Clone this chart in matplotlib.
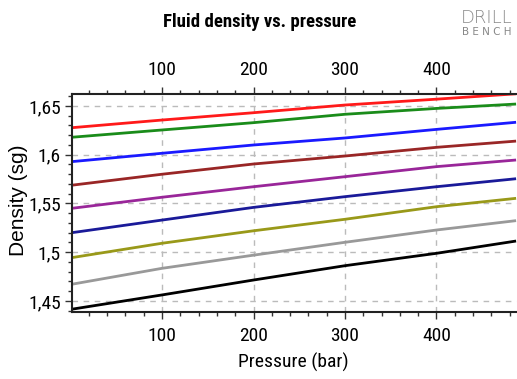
import matplotlib.pyplot as plt
from matplotlib.ticker import MultipleLocator, FuncFormatter
from matplotlib import font_manager

# pressure samples (bar) and densities (sg)
pressure = [1, 100, 200, 300, 400, 487]

red_line = [1.6277, 1.6356, 1.6431, 1.6510, 1.6570, 1.6625]
green_line = [1.6179, 1.6254, 1.6329, 1.6415, 1.6475, 1.6520]
blue_line = [1.5929, 1.6015, 1.6100, 1.6172, 1.6260, 1.6333]
brown_line = [1.5687, 1.5800, 1.5905, 1.5987, 1.6076, 1.6140]
purple_line = [1.5450, 1.5564, 1.5672, 1.5775, 1.5878, 1.5946]
navy_line = [1.5200, 1.5330, 1.5460, 1.5570, 1.5672, 1.5754]
olive_line = [1.4944, 1.5092, 1.5220, 1.5338, 1.5467, 1.5553]
gray_line = [1.4671, 1.4835, 1.4970, 1.5102, 1.5228, 1.5324]
black_line = [1.4415, 1.4562, 1.4715, 1.4862, 1.4989, 1.5115]

series = [
    (red_line, '#ff1a1a'),
    (green_line, '#1a8c1a'),
    (blue_line, '#1a1aff'),
    (brown_line, '#992626'),
    (purple_line, '#992699'),
    (navy_line, '#1a1a99'),
    (olive_line, '#999919'),
    (gray_line, '#999999'),
    (black_line, '#000000'),
]

# narrow sans to get close to the squeezed look of the original
installed = {f.name for f in font_manager.fontManager.ttflist}
narrow = 'Liberation Sans'
for name in ['Liberation Sans Narrow', 'Roboto Condensed', 'Archivo Narrow', 'PT Sans Narrow']:
    if name in installed:
        narrow = name
        break
plt.rcParams['font.family'] = [narrow, 'DejaVu Sans']

fig = plt.figure(figsize=(5.17, 3.79), dpi=100)
ax = fig.add_axes([72 / 517, 1 - 312 / 379, (517 - 72) / 517, (312 - 94) / 379])

for values, color in series:
    ax.plot(pressure, values, color=color, lw=2, solid_capstyle='butt')

ax.set_xlim(1.6, 488)
ax.set_ylim(1.4387, 1.6623)

ax.xaxis.set_major_locator(MultipleLocator(100))
ax.xaxis.set_minor_locator(MultipleLocator(20))
ax.yaxis.set_major_locator(MultipleLocator(0.05))
ax.yaxis.set_minor_locator(MultipleLocator(0.01))
ax.yaxis.set_major_formatter(FuncFormatter(lambda v, _: f'{v:.2f}'.rstrip('0').replace('.', ',')))

ax.tick_params(which='both', direction='out', top=True, labeltop=True,
               right=False, labelsize=14, color='#333333')
ax.tick_params(axis='x', pad=6)
ax.tick_params(axis='y', pad=3)
ax.tick_params(which='major', length=5, width=1)
ax.tick_params(which='minor', length=3, width=1)

ax.grid(True, which='major', color='#bbbbbb', linestyle=(0, (4, 4)), lw=1)
for side in ['left', 'top', 'bottom']:
    ax.spines[side].set_linewidth(1.5)
    ax.spines[side].set_color('#222222')
ax.spines['right'].set_visible(False)

ax.set_xlabel('Pressure (bar)', fontsize=14)
ax.xaxis.label.set_verticalalignment('center')
ax.xaxis.set_label_coords(0.497, -0.229)
ax.set_ylabel('Density (sg)', fontsize=15, family=['Liberation Sans', 'DejaVu Sans'])
ax.yaxis.label.set_verticalalignment('center')
ax.yaxis.set_label_coords(-0.121, 0.514)

fig.text(260 / 517, 1 - 22 / 379, 'Fluid density vs. pressure', fontsize=13.5,
         fontweight='bold', ha='center', va='center')

# logo
fig.text(461 / 517, 1 - 18 / 379, 'DRILL', fontsize=13, color='#888888',
         family=['DejaVu Sans'], fontweight='light', ha='left', va='center')
fig.text(462 / 517, 1 - 32 / 379, 'B E N C H', fontsize=7.5, color='#888888',
         family=['DejaVu Sans'], ha='left', va='center')

plt.savefig('out.png', dpi=100)
